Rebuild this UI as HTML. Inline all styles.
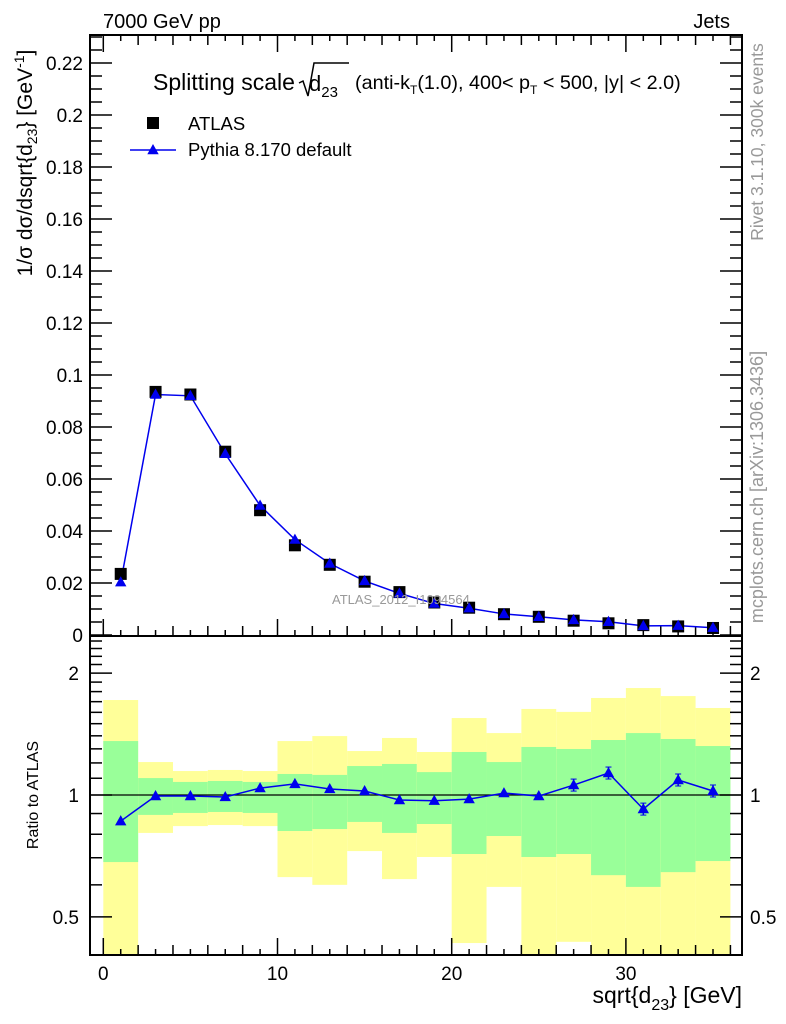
<!DOCTYPE html>
<html><head><meta charset="utf-8"><style>
body{margin:0;background:#fff;}
svg{display:block;font-family:"Liberation Sans",sans-serif;}
</style></head><body>
<svg id="c" width="786" height="1024" viewBox="0 0 786 1024"></svg>
<script>
const binEdgesLo=[0,2,4,6,8,10,12,14,16,18,20,22,24,26,28,30,32,34];
const binCenters=[1,3,5,7,9,11,13,15,17,19,21,23,25,27,29,31,33,35];
const atlasValues=[0.0235,0.0935,0.0925,0.0705,0.048,0.0345,0.027,0.0205,0.0165,0.0125,0.0105,0.008,0.007,0.0055,0.0045,0.0038,0.0033,0.0027];
const pythiaValues=[0.0203,0.0925,0.092,0.0697,0.0498,0.0367,0.0275,0.0208,0.016,0.0121,0.0103,0.0081,0.007,0.0058,0.0051,0.0035,0.0036,0.0028];
const ratioValues=[0.862,0.994,0.994,0.989,1.04,1.065,1.035,1.023,0.972,0.968,0.977,1.011,0.994,1.058,1.133,0.923,1.089,1.023];
const yellowHi=[1.716,1.206,1.146,1.153,1.146,1.359,1.398,1.284,1.383,1.277,1.549,1.422,1.631,1.604,1.736,1.837,1.755,1.640];
const yellowLo=[0.35,0.806,0.838,0.843,0.838,0.627,0.600,0.727,0.620,0.703,0.431,0.593,0.35,0.434,0.35,0.35,0.35,0.35];
const greenHi=[1.359,1.101,1.077,1.083,1.077,1.127,1.121,1.179,1.193,1.139,1.277,1.206,1.314,1.299,1.367,1.422,1.375,1.321];
const greenLo=[0.683,0.893,0.903,0.908,0.903,0.815,0.824,0.858,0.806,0.848,0.715,0.792,0.703,0.715,0.634,0.593,0.645,0.687];
const mainTicks=["0","0.02","0.04","0.06","0.08","0.1","0.12","0.14","0.16","0.18","0.2","0.22"];
const xTickLabels=["0","10","20","30"];

const NS="http://www.w3.org/2000/svg";
const svg=document.getElementById('c');
function el(t,a,p){const e=document.createElementNS(NS,t);for(const k in a)e.setAttribute(k,a[k]);(p||svg).appendChild(e);return e;}
const L=90,R=742,T=35,M=636,B=955;
const X=v=>103.3+v*17.42;
const Y=v=>635-v*2600;
const RY=r=>795-405*Math.log10(r);
const clipR=y=>Math.max(M,Math.min(B,y));

const gBands=el('g',{});


for(let i=0;i<binEdgesLo.length;i++){
  const x0=X(binEdgesLo[i]),x1=X(binEdgesLo[i]+2);
  const y1=clipR(RY(yellowHi[i])),y2=clipR(RY(yellowLo[i]));
  const r=el('rect',{x:x0,y:y1,width:x1-x0,height:y2-y1,fill:'#ffff99'},gBands);
  
  
  const g1=clipR(RY(greenHi[i])),g2=clipR(RY(greenLo[i]));
  const g=el('rect',{x:x0,y:g1,width:x1-x0,height:g2-g1,fill:'#99ff99'},gBands);
  
  
}
const one=el('line',{x1:L,x2:R,y1:RY(1),y2:RY(1),stroke:'#000','stroke-width':1.2});



for(const [t,b] of [[T,M],[M,B]]){
  const f=el('rect',{x:L,y:t,width:R-L,height:b-t,fill:'none',stroke:'#000','stroke-width':2});
  
  
}
for(let v=0;v<=36;v++){
  const len=v%10==0?17:(v%2==0?10:6);
  for(const [base,dir] of [[M,-1],[T,1],[B,-1]]){
    el('line',{x1:X(v),x2:X(v),y1:base,y2:base+dir*len,stroke:'#000','stroke-width':1.5});
  }
}
for(let i=0;i<=46;i++){
  const v=i*0.005,len=i%4==0?22:12;
  el('line',{x1:L,x2:L+len,y1:Y(v),y2:Y(v),stroke:'#000','stroke-width':1.5});
  el('line',{x1:R,x2:R-len,y1:Y(v),y2:Y(v),stroke:'#000','stroke-width':1.5});
}
mainTicks.forEach((s,i)=>{
  const t=el('text',{x:83,y:Y(i*0.02)+7,'text-anchor':'end','font-size':19});
  t.textContent=s;
  
  
});
const rt=[0.4,0.5,0.6,0.7,0.8,0.9,1,1.1,1.2,1.3,1.4,1.5,1.6,1.7,1.8,1.9,2,2.1,2.2,2.3,2.4];
rt.forEach(r=>{const len=(r==0.5||r==1||r==2)?22:12;const y=RY(r);
  if(y<M||y>B)return;
  el('line',{x1:L,x2:L+len,y1:y,y2:y,stroke:'#000','stroke-width':1.5});
  el('line',{x1:R,x2:R-len,y1:y,y2:y,stroke:'#000','stroke-width':1.5});
});
[["2",2],["1",1],["0.5",0.5]].forEach(([s,r])=>{
  const a=el('text',{x:79,y:RY(r)+7,'text-anchor':'end','font-size':19});a.textContent=s;
  
  
  const b=el('text',{x:750,y:RY(r)+7,'font-size':19});b.textContent=s;
  
  
});
xTickLabels.forEach(s=>{
  const t=el('text',{x:X(+s),y:980,'text-anchor':'middle','font-size':19});t.textContent=s;
  
  
});

const mline=el('polyline',{points:binCenters.map((c,i)=>X(c)+','+Y(pythiaValues[i])).join(' '),fill:'none',stroke:'#0000ee','stroke-width':1.5});


binCenters.forEach((c,i)=>{
  const s=el('rect',{x:X(c)-6,y:Y(atlasValues[i])-6,width:12,height:12,fill:'#000'});
  
  
});
function tri(x,y,s,name){const p=el('polygon',{points:`${x},${y-s} ${x-s*0.95},${y+s*0.7} ${x+s*0.95},${y+s*0.7}`,fill:'#0000ee'});
  
  }
binCenters.forEach((c,i)=>tri(X(c),Y(pythiaValues[i]),6,'pythia-point'));
const rline=el('polyline',{points:binCenters.map((c,i)=>X(c)+','+RY(ratioValues[i])).join(' '),fill:'none',stroke:'#0000ee','stroke-width':1.5});


binCenters.forEach((c,i)=>{
  const x=X(c),y=RY(ratioValues[i]),e=i>=13?6:3;
  el('line',{x1:x,x2:x,y1:y-e,y2:y+e,stroke:'#0000ee','stroke-width':1.5});
  if(e>3){el('line',{x1:x-3,x2:x+3,y1:y-e,y2:y-e,stroke:'#0000ee'});el('line',{x1:x-3,x2:x+3,y1:y+e,y2:y+e,stroke:'#0000ee'});}
  tri(x,y,6,'ratio-point');
});

function txt(x,y,s,o,name){const t=el('text',Object.assign({x:x,y:y,'font-size':19},o||{}));t.innerHTML=s;
  
  return t;}
txt(103,28,'7000 GeV pp',{'font-size':20},'energy-label');
txt(730,28,'Jets',{'text-anchor':'end','font-size':20},'process-label');
txt(153,90,'Splitting scale',{'font-size':23},'title-text');
el('path',{d:'M299,83 L303,81 L308,96 L314,63 L349,63',fill:'none',stroke:'#000','stroke-width':1.5});
txt(309,91,'d<tspan font-size="15" dy="6">23</tspan>',{'font-size':22},'title-d23');
txt(355,89,'(anti-k<tspan font-size="12" dy="5">T</tspan><tspan dy="-5">(1.0), 400&lt; p</tspan><tspan font-size="12" dy="5">T</tspan><tspan dy="-5"> &lt; 500, |y| &lt; 2.0)</tspan>',{'font-size':19.8},'title-cuts');
el('rect',{x:147,y:117,width:12,height:12,fill:'#000'});
txt(188,130,'ATLAS',{'font-size':18.5},'legend-atlas');
el('line',{x1:130,x2:176,y1:150,y2:150,stroke:'#0000ee','stroke-width':1.5});
tri(153,150,6,'legend-pythia-marker');
txt(188,156,'Pythia 8.170 default',{'font-size':18.5},'legend-pythia');
txt(332,604,'ATLAS_2012_I1094564',{'font-size':13,fill:'#999'},'analysis-watermark');
txt(742,1003,'sqrt{d<tspan font-size="16" dy="7">23</tspan><tspan dy="-7">} [GeV]</tspan>',{'text-anchor':'end','font-size':23},'x-axis-title');
txt(0,0,'1/σ dσ/dsqrt{d<tspan font-size="14" dy="5">23</tspan><tspan dy="-5">} [GeV</tspan><tspan font-size="14" dy="-8">-1</tspan><tspan dy="8">]</tspan>',{'text-anchor':'middle','font-size':21,transform:'translate(32,163) rotate(-90)'},'y-axis-title');
txt(0,0,'Ratio to ATLAS',{'text-anchor':'middle','font-size':16,transform:'translate(38,795) rotate(-90)'},'ratio-axis-title');
txt(0,0,'Rivet 3.1.10,  300k events',{'text-anchor':'middle','font-size':17.5,fill:'#999',transform:'translate(763,142) rotate(-90)'},'rivet-label');
txt(0,0,'mcplots.cern.ch [arXiv:1306.3436]',{'text-anchor':'middle','font-size':18,fill:'#999',transform:'translate(763,487) rotate(-90)'},'mcplots-label');
</script>
</body></html>
